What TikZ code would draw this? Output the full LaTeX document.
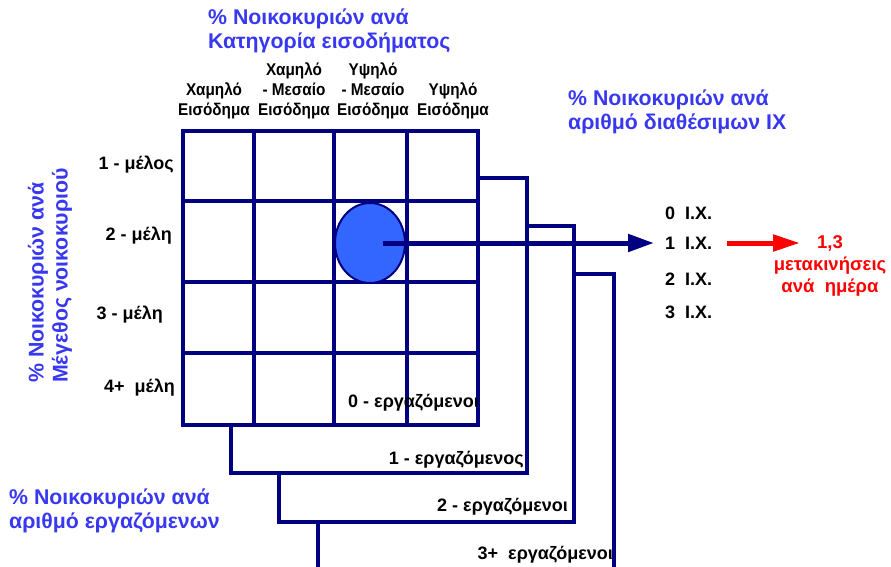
\documentclass[tikz,border=0pt]{standalone}
\usepackage{fontspec}
\setmainfont{Liberation Sans}
\newfontfamily\narrowf{Liberation Sans}[FakeStretch=0.9]
\usetikzlibrary{arrows.meta,shapes.geometric}
\definecolor{navy}{HTML}{000080}
\definecolor{tblue}{HTML}{3838F0}
\definecolor{cfill}{HTML}{3366FF}
\definecolor{rred}{HTML}{FF0000}
\begin{document}
\begin{tikzpicture}[x=1pt,y=-1pt,
  outerline/.style={draw=navy,line width=3.6pt},
  innerline/.style={draw=navy,line width=3.2pt},
  layerline/.style={draw=navy,line width=3.4pt},
  btitle/.style={text=tblue,font=\fontsize{21.3}{24}\selectfont\bfseries,align=left,inner sep=0pt},
  lab/.style={font=\fontsize{18}{20}\selectfont\bfseries,inner sep=0pt},
  headlab/.style={font=\narrowf\fontsize{17}{20}\selectfont\bfseries,align=center,inner sep=0pt},
  redlab/.style={text=rred,font=\fontsize{18.5}{22}\selectfont\bfseries,align=center,inner sep=0pt},
  navyarrow/.style={draw=navy,line width=5pt,-{Triangle[length=26pt,width=17pt]}},
  redarrow/.style={draw=rred,line width=5pt,-{Triangle[length=27pt,width=16pt]}}]
\useasboundingbox (0,0) rectangle (891,566);

% nested worker layers
\draw[layerline] (478,178) -- (527,178) -- (527,473) -- (231,473) -- (231,425);
\draw[layerline] (527,226) -- (574,226) -- (574,522) -- (279,522) -- (279,473);
\draw[layerline] (574,274) -- (614,274) -- (614,570);
\draw[layerline] (318,522) -- (318,570);

% grid
\fill[white] (183,131) rectangle (478,425);
\foreach \x in {254,334,407} \draw[innerline] (\x,131) -- (\x,425);
\foreach \y in {201,282,353} \draw[innerline] (183,\y) -- (478,\y);
\draw[outerline] (183,131) rectangle (478,425);

% highlighted cell
\node[ellipse,draw=navy,line width=2pt,fill=cfill,minimum width=70pt,minimum height=80pt,inner sep=0pt] (circ) at (370,243) {};

% titles
\node[btitle,anchor=west] (ttop) at (208,31) {\% Νοικοκυριών ανά\\Κατηγορία εισοδήματος};
\node[btitle,anchor=west] (tright) at (568,112) {\% Νοικοκυριών ανά\\αριθμό διαθέσιμων ΙΧ};
\node[btitle,anchor=west] (tbottom) at (9,511) {\% Νοικοκυριών ανά\\αριθμό εργαζόμενων};
\node[btitle,anchor=west,rotate=90] (tleft) at (50,383) {\% Νοικοκυριών ανά\\Μέγεθος νοικοκυριού};

% column headers
\node[headlab,anchor=south] (h1) at (214,119) {Χαμηλό\\Εισόδημα};
\node[headlab,anchor=south] (h2) at (294,119) {Χαμηλό\\- Μεσαίο\\Εισόδημα};
\node[headlab,anchor=south] (h3) at (373,119) {Υψηλό\\- Μεσαίο\\Εισόδημα};
\node[headlab,anchor=south] (h4) at (453,119) {Υψηλό\\Εισόδημα};

% row labels
\node[lab,anchor=east] (r1) at (174,165) {1 - μέλος};
\node[lab,anchor=east] (r2) at (172,236) {2 - μέλη};
\node[lab,anchor=east] (r3) at (163,315) {3 - μέλη};
\node[lab,anchor=east] (r4) at (175,388) {4+\ \ μέλη};

% worker labels
\node[lab,anchor=east] (w0) at (479,403) {0 - εργαζόμενοι};
\node[lab,anchor=east] (w1) at (524,460) {1 - εργαζόμενος};
\node[lab,anchor=east] (w2) at (568,507) {2 - εργαζόμενοι};
\node[lab,anchor=east] (w3) at (613,555) {3+\ \ εργαζόμενοι};

% car labels
\node[lab,anchor=west] (ix0) at (665,213) {0\ \ Ι.Χ.};
\node[lab,anchor=west] (ix1) at (665,243) {1\ \ Ι.Χ.};
\node[lab,anchor=west] (ix2) at (665,279) {2\ \ Ι.Χ.};
\node[lab,anchor=west] (ix3) at (665,312) {3\ \ Ι.Χ.};

% result
\node[redlab] (res) at (830,266) {1,3\\μετακινήσεις\\ανά\ \ ημέρα};
\coordinate (rstart) at (727,243);
\coordinate (rend) at (800,243);

% arrows
\draw[navyarrow] ([xshift=13pt]circ.center) -- ([xshift=-11pt]ix1.west);
\draw[redarrow] (rstart) -- (rend);
\end{tikzpicture}
\end{document}
